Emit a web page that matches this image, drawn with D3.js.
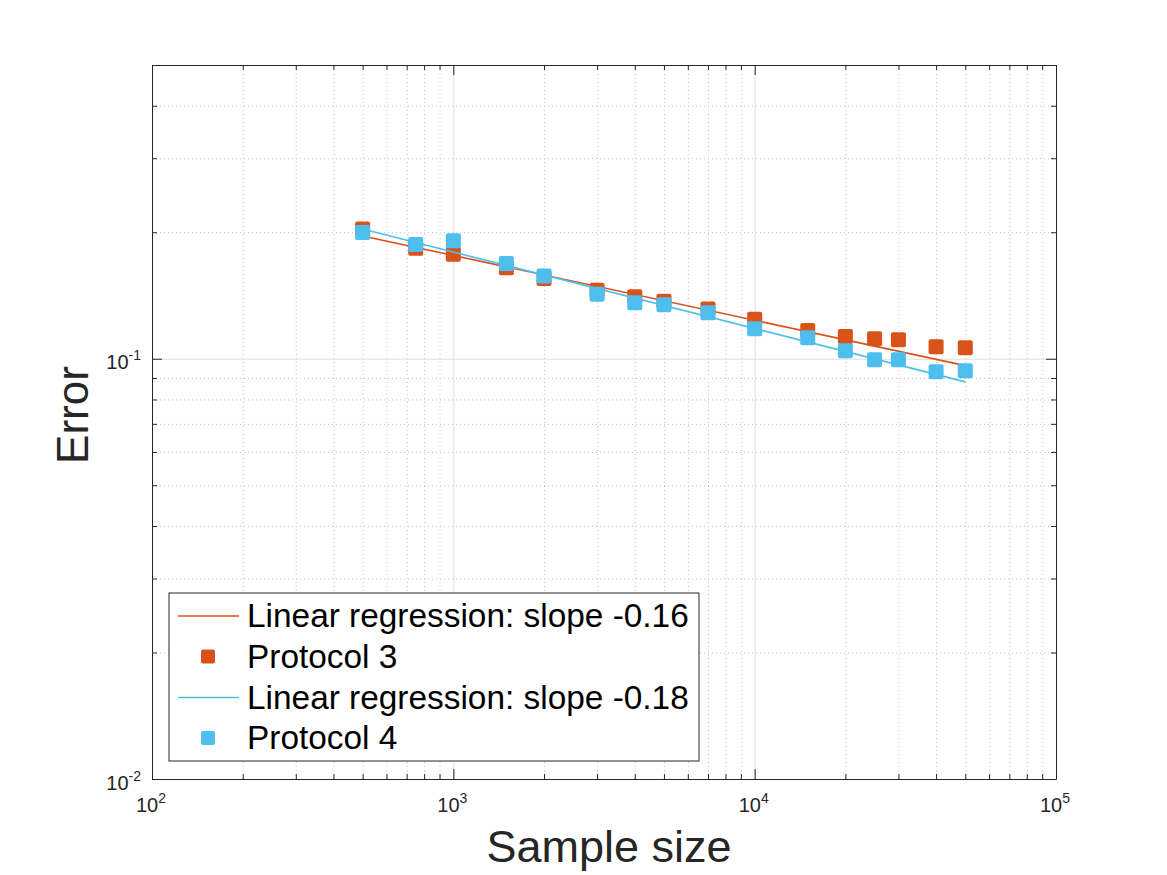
<!DOCTYPE html>
<html>
<head>
<meta charset="utf-8">
<script src="https://cdn.jsdelivr.net/npm/d3@7"></script>
<style>
body { margin: 0; background: #fff; }
svg text { font-family: "Liberation Sans", Helvetica, Arial, sans-serif; fill: #262626; }
.axis path, .axis line { stroke: #262626; stroke-width: 1; }
.grid path { display: none; }
.grid-major line { stroke: #dedede; stroke-width: 1; }
.grid-minor line { stroke: #c4c4c4; stroke-width: 1; stroke-dasharray: 1,3; }
</style>
</head>
<body>
<div id="chart"></div>
<script>
//Data
const sampleSize = [500, 750, 1000, 1500, 2000, 3000, 4000, 5000, 7000, 10000, 15000, 20000, 25000, 30000, 40000, 50000];
const errorP3 = [0.2035, 0.1831, 0.1772, 0.1646, 0.1553, 0.1455, 0.1404, 0.137, 0.1314, 0.1241, 0.1168, 0.113, 0.1116, 0.111, 0.1068, 0.1062];
const errorP4 = [0.1996, 0.1869, 0.191, 0.1684, 0.1573, 0.1423, 0.136, 0.1345, 0.1287, 0.1179, 0.1122, 0.1045, 0.0995, 0.0995, 0.0931, 0.0936];

//Regression lines: value at first sample size and slope (log-log)
const fitStart = [0.196, 0.2035];
const fitSlope = [-0.1543, -0.1818];

const xTickExp = ['2', '3', '4', '5'];
const yTickExp = ['-2', '-1'];
const legendLabels = ['Linear regression: slope -0.16', 'Protocol 3', 'Linear regression: slope -0.18', 'Protocol 4'];
const colors = ['#D95319', '#4DBEEE'];

const w = 1167;
const h = 875;
const pLeft = 152, pRight = 1056, pTop = 65, pBottom = 779;

const xScale = d3.scaleLog().domain([1e2, 1e5]).range([pLeft, pRight]);
const yScale = d3.scaleLog().domain([0.01, 0.5]).range([pBottom, pTop]);

const xMajor = xTickExp.map(e => Math.pow(10, +e));
const yMajor = yTickExp.map(e => Math.pow(10, +e));
const xMinor = xScale.ticks().filter(t => !xMajor.some(m => Math.abs(m - t) / m < 1e-6));
const yMinor = yScale.ticks().filter(t => !yMajor.some(m => Math.abs(m - t) / m < 1e-6) && t < 0.5 - 1e-9);

const svg = d3.select('#chart')
              .append('svg')
              .attr('width', w)
              .attr('height', h);

//Grid
svg.append('g')
   .attr('class', 'grid grid-minor')
   .attr('transform', `translate(0, ${pBottom})`)
   .call(d3.axisBottom(xScale).tickValues(xMinor).tickSize(-(pBottom - pTop)).tickFormat(''));
svg.append('g')
   .attr('class', 'grid grid-minor')
   .attr('transform', `translate(${pLeft}, 0)`)
   .call(d3.axisLeft(yScale).tickValues(yMinor).tickSize(-(pRight - pLeft)).tickFormat(''));
svg.append('g')
   .attr('class', 'grid grid-major')
   .attr('transform', `translate(0, ${pBottom})`)
   .call(d3.axisBottom(xScale).tickValues(xMajor.slice(1, -1)).tickSize(-(pBottom - pTop)).tickFormat(''));
svg.append('g')
   .attr('class', 'grid grid-major')
   .attr('transform', `translate(${pLeft}, 0)`)
   .call(d3.axisLeft(yScale).tickValues(yMajor.slice(1)).tickSize(-(pRight - pLeft)).tickFormat(''));

//Axes (box with inward ticks on all sides)
function addAxis(axisFn, scale, pos, majors, minors) {
  const g = svg.append('g').attr('class', 'axis').attr('transform', pos);
  g.call(axisFn(scale).tickValues(minors).tickSizeInner(-5).tickSizeOuter(0).tickFormat(''));
  const g2 = svg.append('g').attr('class', 'axis').attr('transform', pos);
  g2.call(axisFn(scale).tickValues(majors).tickSizeInner(-10).tickSizeOuter(0).tickFormat(''));
  g2.select('.domain').remove();
}
addAxis(d3.axisBottom, xScale, `translate(0, ${pBottom})`, xMajor, xMinor);
addAxis(d3.axisTop, xScale, `translate(0, ${pTop})`, xMajor, xMinor);
addAxis(d3.axisLeft, yScale, `translate(${pLeft}, 0)`, yMajor, yMinor);
addAxis(d3.axisRight, yScale, `translate(${pRight}, 0)`, yMajor, yMinor);

//Tick labels 10^n
xTickExp.forEach((e, i) => {
  const t = svg.append('text')
     .attr('x', xScale(xMajor[i]) - 1)
     .attr('y', pBottom + 33)
     .attr('text-anchor', 'middle')
     .style('font-size', '20px');
  t.append('tspan').text('10');
  t.append('tspan').attr('dy', -9).style('font-size', '14px').text(e);
});
yTickExp.forEach((e, i) => {
  const t = svg.append('text')
     .attr('x', pLeft - 11)
     .attr('y', yScale(yMajor[i]) + 10.5)
     .attr('text-anchor', 'end')
     .style('font-size', '20px');
  t.append('tspan').text('10');
  t.append('tspan').attr('dy', -9).style('font-size', '14px').text(e);
});

//Axes labels
svg.append('text')
   .attr('x', 609)
   .attr('y', 862)
   .attr('text-anchor', 'middle')
   .style('font-size', '45px')
   .text('Sample size');

svg.append('text')
   .attr('transform', 'translate(88, 415) rotate(-90)')
   .attr('text-anchor', 'middle')
   .style('font-size', '44px')
   .text('Error');

//Series
const line = d3.line().x(d => xScale(d[0])).y(d => yScale(d[1]));
const x0 = sampleSize[0], x1 = sampleSize[sampleSize.length - 1];
const ms = 15;

[errorP3, errorP4].forEach((vals, s) => {
  const fit = [x0, x1].map(x => [x, fitStart[s] * Math.pow(x / x0, fitSlope[s])]);
  svg.append('path')
     .datum(fit)
     .attr('d', line)
     .attr('fill', 'none')
     .attr('stroke', colors[s])
     .attr('stroke-width', 1.6);

  svg.append('g')
     .selectAll('rect')
     .data(sampleSize.map((x, i) => [x, vals[i]]))
     .enter()
     .append('rect')
     .attr('x', d => xScale(d[0]) - ms / 2)
     .attr('y', d => yScale(d[1]) - ms / 2)
     .attr('width', ms)
     .attr('height', ms)
     .attr('rx', 2)
     .attr('fill', colors[s]);
});

//Legend
const legend = svg.append('g');
legend.append('rect')
      .attr('x', 169)
      .attr('y', 593)
      .attr('width', 530)
      .attr('height', 168)
      .attr('fill', '#fff')
      .attr('stroke', '#262626')
      .attr('stroke-width', 1);

const rowBase = [627, 667.5, 708.5, 749];
legendLabels.forEach((label, i) => {
  const c = colors[Math.floor(i / 2)];
  const cy = rowBase[i] - 11;
  if (i % 2 === 0) {
    legend.append('line')
          .attr('x1', 178).attr('x2', 239)
          .attr('y1', cy).attr('y2', cy)
          .attr('stroke', c)
          .attr('stroke-width', 1.6);
  } else {
    legend.append('rect')
          .attr('x', 208 - 7).attr('y', cy - 7)
          .attr('width', 14).attr('height', 14)
          .attr('rx', 2)
          .attr('fill', c);
  }
  legend.append('text')
        .attr('x', 247)
        .attr('y', rowBase[i])
        .style('font-size', '33.4px')
        .style('fill', '#000')
        .text(label);
});
</script>
</body>
</html>
